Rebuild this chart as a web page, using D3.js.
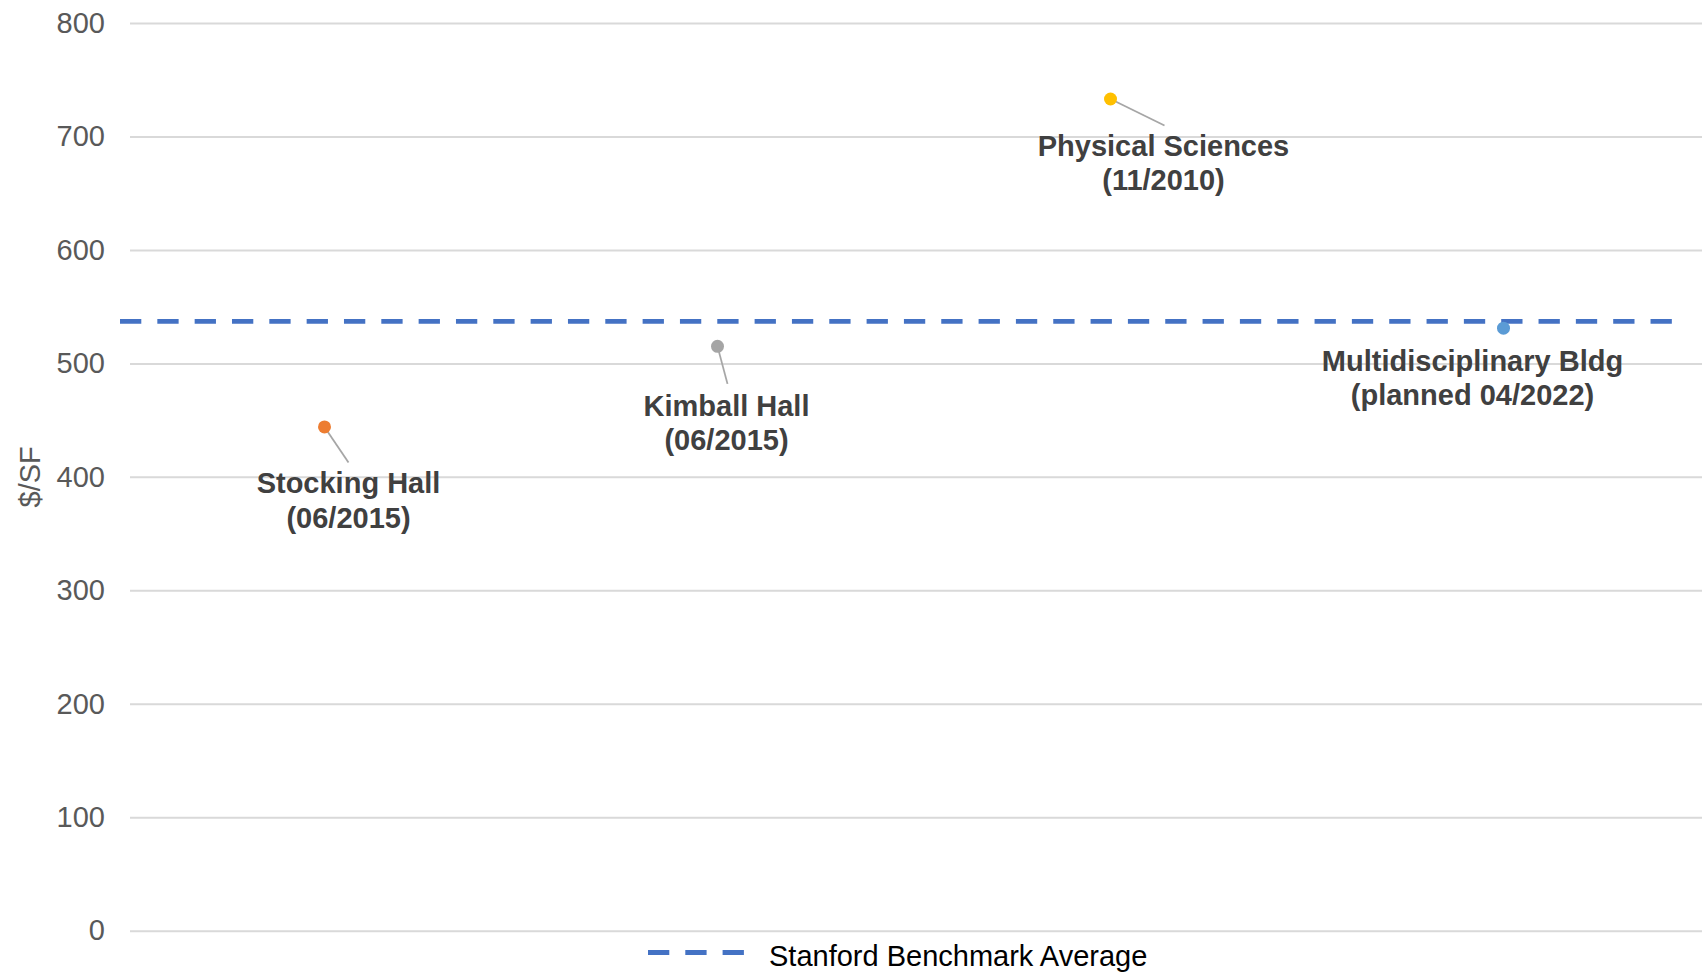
<!DOCTYPE html>
<html>
<head>
<meta charset="utf-8">
<script src="https://cdn.jsdelivr.net/npm/d3@7"></script>
<style>
  html, body { margin: 0; padding: 0; background: #fff; }
  svg { display: block; font-family: "Liberation Sans", Arial, sans-serif; }
</style>
</head>
<body>
<svg id="chart" width="1708" height="973"></svg>
<script>
// Building cost per square foot vs. the benchmark average
const buildings = ["Stocking Hall", "Kimball Hall", "Physical Sciences", "Multidisciplinary Bldg"];
const completion = ["(06/2015)", "(06/2015)", "(11/2010)", "(planned 04/2022)"];
const costPerSF = [444, 515, 733, 531];
const benchmarkAverage = 537;
const yTicks = [0, 100, 200, 300, 400, 500, 600, 700, 800];
const legendLabel = "Stanford Benchmark Average";
const axisTitle = "$/SF";

// Styling / layout (kept separate from the values)
const markerColors = ["#ed7d31", "#a5a5a5", "#ffc000", "#5b9bd5"];
const labelOffsets = [[24, 66.5], [9, 69.5], [53, 56.5], [-31, 42.5]];
const leaderOffsets = [[24, 35.5], [10, 37.5], [54, 26.5], null];
const lineGap = 34.5;

const svg = d3.select("#chart");
const plot = { left: 130, right: 1702, top: 23, bottom: 930.7 };

const y = d3.scaleLinear().domain([0, 800]).range([plot.bottom, plot.top]);
const x = d3.scaleBand().domain(buildings).range([128, 1700]);
const cx = d => x(d) + x.bandwidth() / 2;

// Gridlines + tick labels
const yAxis = d3.axisLeft(y)
  .tickValues(yTicks)
  .tickSize(-(plot.right - plot.left))
  .tickPadding(25)
  .tickFormat(d3.format("d"));

const gAxis = svg.append("g")
  .attr("transform", `translate(${plot.left},0)`)
  .call(yAxis);
gAxis.select(".domain").remove();
gAxis.selectAll(".tick line").attr("stroke", "#d9d9d9").attr("stroke-width", 2);
gAxis.selectAll(".tick text")
  .attr("fill", "#595959")
  .attr("font-size", 29)
  .attr("font-family", "'Liberation Sans', Arial, sans-serif");

// Axis title
svg.append("text")
  .attr("transform", `translate(40, ${(plot.top + plot.bottom) / 2}) rotate(-90)`)
  .attr("text-anchor", "middle")
  .attr("fill", "#595959")
  .attr("font-size", 29)
  .text(axisTitle);

// Benchmark average line
svg.append("line")
  .attr("x1", 120).attr("x2", 1672)
  .attr("y1", y(benchmarkAverage)).attr("y2", y(benchmarkAverage))
  .attr("stroke", "#4472c4")
  .attr("stroke-width", 4.6)
  .attr("stroke-dasharray", "21.3,16.03");

// Leader lines
buildings.forEach((b, i) => {
  const off = leaderOffsets[i];
  if (!off) return;
  svg.append("line")
    .attr("x1", cx(b)).attr("y1", y(costPerSF[i]))
    .attr("x2", cx(b) + off[0]).attr("y2", y(costPerSF[i]) + off[1])
    .attr("stroke", "#a6a6a6")
    .attr("stroke-width", 1.8);
});

// Points
svg.selectAll("circle.pt")
  .data(buildings)
  .join("circle")
  .attr("class", "pt")
  .attr("cx", d => cx(d))
  .attr("cy", (d, i) => y(costPerSF[i]))
  .attr("r", 6.5)
  .attr("fill", (d, i) => markerColors[i]);

// Data labels
buildings.forEach((b, i) => {
  const lx = cx(b) + labelOffsets[i][0];
  const ly = y(costPerSF[i]) + labelOffsets[i][1];
  const t = svg.append("text")
    .attr("text-anchor", "middle")
    .attr("fill", "#404040")
    .attr("font-weight", "bold")
    .attr("font-size", 29);
  t.append("tspan").attr("x", lx).attr("y", ly).text(b);
  t.append("tspan").attr("x", lx).attr("y", ly + lineGap).text(completion[i]);
});

// Legend
const legend = svg.append("g");
legend.append("line")
  .attr("x1", 648).attr("x2", 744)
  .attr("y1", 952.5).attr("y2", 952.5)
  .attr("stroke", "#4472c4")
  .attr("stroke-width", 4.8)
  .attr("stroke-dasharray", "21.3,16");
legend.append("text")
  .attr("x", 769).attr("y", 965.5)
  .attr("fill", "#000")
  .attr("font-size", 29)
  .text(legendLabel);
</script>
</body>
</html>
